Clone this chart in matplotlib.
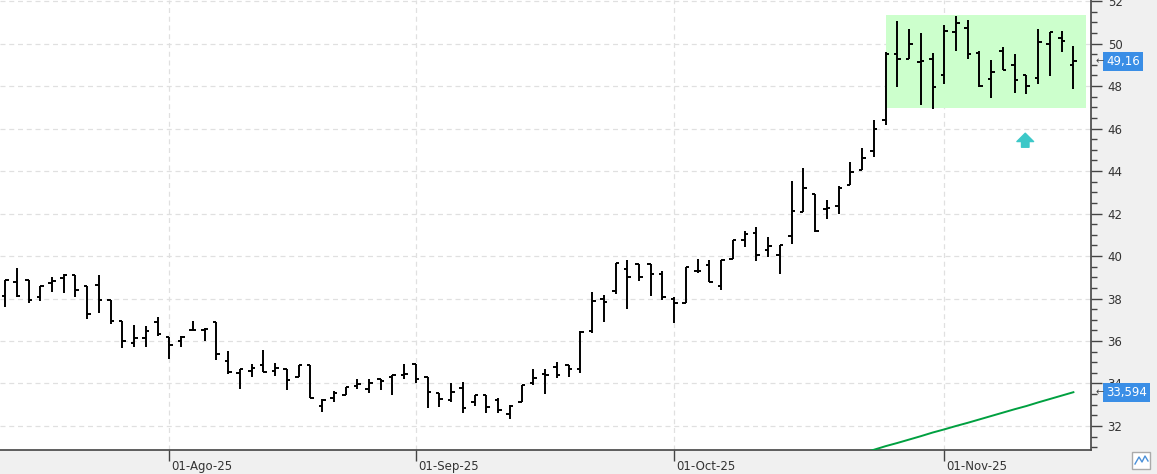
import matplotlib.pyplot as plt
import matplotlib.patches as patches
import matplotlib.transforms as mtrans
import numpy as np

# daily OHLC, 14-Jul-25 .. 18-Nov-25
opens = [38.12, 38.76, 38.87, 38.05, 38.74, 38.95, 39.11, 38.59, 38.63, 37.93,
         36.96, 35.89, 36.13, 36.88, 36.20, 36.00, 36.52, 36.52, 36.91, 35.06,
         34.48, 34.59, 34.87, 34.59, 34.68, 34.30, 34.89, 32.93, 33.33, 33.44,
         33.87, 33.75, 34.19, 34.31, 34.42, 34.94, 34.31, 33.56, 33.22, 33.77,
         33.14, 33.48, 33.22, 32.57, 33.14, 34.00, 34.45, 34.79, 34.89, 34.67,
         36.49, 37.98, 38.35, 39.37, 39.62, 39.62, 39.15, 37.98, 37.77, 39.31,
         39.58, 38.59, 39.84, 40.75, 41.07, 40.28, 40.06, 40.96, 42.08, 42.94,
         42.20, 42.35, 43.33, 44.04, 44.96, 46.38, 49.52, 49.25, 49.15, 49.29,
         48.50, 50.54, 50.71, 49.54, 48.31, 49.65, 48.99, 48.50, 48.36, 50.00,
         50.24, 48.97]
highs = [38.87, 39.42, 38.87, 38.59, 38.99, 39.15, 39.11, 38.59, 39.11, 37.93,
         36.96, 36.75, 36.71, 37.11, 36.20, 36.23, 36.94, 36.60, 36.91, 35.53,
         34.67, 34.90, 35.58, 34.95, 34.68, 34.85, 34.89, 33.28, 33.64, 33.84,
         34.22, 34.19, 34.22, 34.42, 34.94, 34.94, 34.31, 33.56, 34.03, 34.08,
         33.48, 33.48, 33.33, 33.01, 33.95, 34.69, 34.66, 35.01, 34.89, 36.45,
         38.33, 38.18, 39.69, 39.81, 39.62, 39.62, 39.31, 38.05, 39.47, 39.84,
         39.81, 39.81, 40.75, 41.19, 41.35, 40.88, 40.50, 43.55, 44.15, 42.94,
         42.63, 43.29, 44.43, 45.09, 46.38, 49.59, 51.06, 50.67, 50.48, 49.54,
         50.87, 51.29, 51.09, 49.65, 49.21, 49.84, 49.52, 48.50, 50.67, 50.54,
         50.59, 49.88]
lows = [37.62, 38.09, 37.77, 37.90, 38.32, 38.27, 38.05, 37.02, 37.30, 36.80,
        35.65, 35.73, 35.70, 36.23, 35.14, 35.73, 36.52, 36.02, 35.09, 34.43,
        33.73, 34.29, 34.53, 34.35, 33.68, 34.30, 33.33, 32.65, 33.14, 33.44,
        33.75, 33.56, 33.69, 33.48, 34.19, 34.03, 32.86, 32.90, 33.12, 32.62,
        32.93, 32.62, 32.59, 32.31, 33.14, 33.95, 33.51, 34.27, 34.31, 34.48,
        36.40, 36.89, 38.21, 37.49, 38.82, 38.13, 37.93, 36.86, 37.77, 39.18,
        38.79, 38.40, 39.84, 40.41, 39.78, 39.97, 39.16, 40.56, 42.08, 41.14,
        41.73, 42.00, 43.33, 44.04, 44.65, 46.19, 47.95, 49.25, 47.11, 46.93,
        48.11, 49.65, 49.25, 47.97, 47.45, 48.74, 47.69, 47.61, 48.08, 48.47,
        49.62, 47.87]
closes = [38.87, 38.12, 37.93, 38.59, 38.82, 39.11, 38.40, 37.27, 37.93, 36.94,
          35.99, 36.13, 36.47, 36.31, 35.81, 36.20, 36.52, 36.57, 35.37, 34.56,
          34.67, 34.71, 34.53, 34.71, 34.18, 34.85, 33.33, 33.20, 33.56, 33.84,
          33.99, 34.00, 34.11, 34.42, 34.47, 34.22, 33.61, 33.25, 33.61, 32.86,
          33.48, 32.90, 32.75, 32.93, 33.95, 34.27, 34.42, 34.38, 34.66, 36.43,
          37.90, 37.84, 39.65, 39.03, 39.03, 39.15, 38.05, 37.77, 39.47, 39.31,
          38.79, 39.81, 40.75, 41.04, 40.05, 40.47, 40.50, 42.13, 43.21, 41.17,
          42.27, 43.21, 43.96, 44.62, 46.00, 49.50, 49.25, 49.96, 49.18, 47.97,
          50.59, 50.95, 49.52, 48.00, 48.67, 48.74, 48.27, 48.00, 50.07, 50.54,
          50.12, 49.16]

# long moving average (only the visible tail)
ma_start = 73
ma_values = [30.72, 30.88, 31.05, 31.20, 31.36, 31.52, 31.69, 31.84, 32.00, 32.15,
             32.31, 32.47, 32.63, 32.79, 32.94, 33.11, 33.27, 33.43, 33.59]

date_pos = [14, 35, 57, 80]
date_labels = ['01-Ago-25', '01-Sep-25', '01-Oct-25', '01-Nov-25']
y_ticks = [32, 34, 36, 38, 40, 42, 44, 46, 48, 50, 52]

# rectangle drawn on the chart (bars 75 .. right edge)
box_x = [75, 92.1]
box_y = [46.98, 51.34]
arrow_x, arrow_y = 86.9, 45.45

bg = '#f0f0f0'
fig = plt.figure(figsize=(11.57, 4.74), dpi=100, facecolor=bg)
ax = fig.add_axes([0, 24 / 474, 1091 / 1157, 450 / 474])
ax.set_facecolor('white')

x = np.arange(len(opens))
ax.add_patch(patches.Rectangle((box_x[0], box_y[0]), box_x[1] - box_x[0], box_y[1] - box_y[0],
                               facecolor='#ccffcc', edgecolor='none', zorder=1))

tw = 0.3
ax.vlines(x, lows, highs, color='black', lw=1.4, zorder=3)
ax.hlines(opens, x - tw, x, color='black', lw=1.4, zorder=3)
ax.hlines(closes, x, x + tw, color='black', lw=1.4, zorder=3)

ma_x = np.arange(ma_start, ma_start + len(ma_values))
ax.plot(ma_x, ma_values, color='#00a040', lw=1.4, zorder=3)

# small cyan up arrow
ax.annotate('', xy=(arrow_x, arrow_y + 0.33), xytext=(arrow_x, arrow_y - 0.33),
            arrowprops=dict(arrowstyle='simple,head_length=0.5,head_width=1.0,tail_width=0.45',
                            color='#3cc8c8', mutation_scale=12, shrinkA=0, shrinkB=0),
            zorder=4)

ax.set_xlim(-0.43, 92.5)
ax.set_ylim(30.87, 52.05)

# grid
for yv in y_ticks:
    ax.axhline(yv, color='#e0e0e0', lw=0.9, ls=(0, (4, 3)), zorder=0)
for xv in date_pos:
    ax.axvline(xv, color='#e0e0e0', lw=0.9, ls=(0, (4, 3)), zorder=0)

for s in ['top', 'left']:
    ax.spines[s].set_visible(False)
ax.spines['right'].set_color('#444444')
ax.spines['bottom'].set_color('#444444')
ax.spines['right'].set_linewidth(1.2)
ax.spines['bottom'].set_linewidth(1.2)

ax.yaxis.tick_right()
ax.set_yticks(y_ticks)
ax.set_yticklabels([str(v) for v in y_ticks], fontsize=8.5, color='#333333')
ax.set_yticks(np.arange(31, 52.01, 0.5), minor=True)
ax.tick_params(axis='y', which='major', length=8, width=1, color='#444444', pad=4)
ax.tick_params(axis='y', which='minor', length=4, width=1, color='#444444')

ax.set_xticks(date_pos)
ax.set_xticklabels(date_labels, fontsize=8.5, color='#333333', ha='left')
ax.tick_params(axis='x', length=8, width=1, color='#444444', pad=-1)
off = mtrans.ScaledTranslation(2 / 100, 0, fig.dpi_scale_trans)
for lbl in ax.get_xticklabels():
    lbl.set_transform(lbl.get_transform() + off)

# last value labels on the price axis
def price_tag(val, txt):
    ax.text(1.014, val, txt, transform=ax.get_yaxis_transform(), fontsize=8.5,
            color='white', va='center', ha='left', zorder=6,
            bbox=dict(boxstyle='square,pad=0.25', facecolor='#3a8ee6', edgecolor='none'))
    ax.text(1.012, val, '\u2190', transform=ax.get_yaxis_transform(), fontsize=7,
            color='#444444', va='center', ha='right', zorder=6)

price_tag(closes[-1], '49,16')
price_tag(ma_values[-1], '33,594')

# small toolbar button bottom right
fig.patches.append(patches.Rectangle((1132 / 1157, 5 / 474), 18 / 1157, 17 / 474,
                                     transform=fig.transFigure, facecolor='white',
                                     edgecolor='#aaaaaa', lw=1))
fig.lines.append(plt.Line2D(np.array([1135, 1139, 1142, 1145, 1148]) / 1157,
                            np.array([10, 17, 12, 18, 13]) / 474,
                            transform=fig.transFigure, color='#4a90d9', lw=1))

fig.savefig('out.png', dpi=100, facecolor=bg)
